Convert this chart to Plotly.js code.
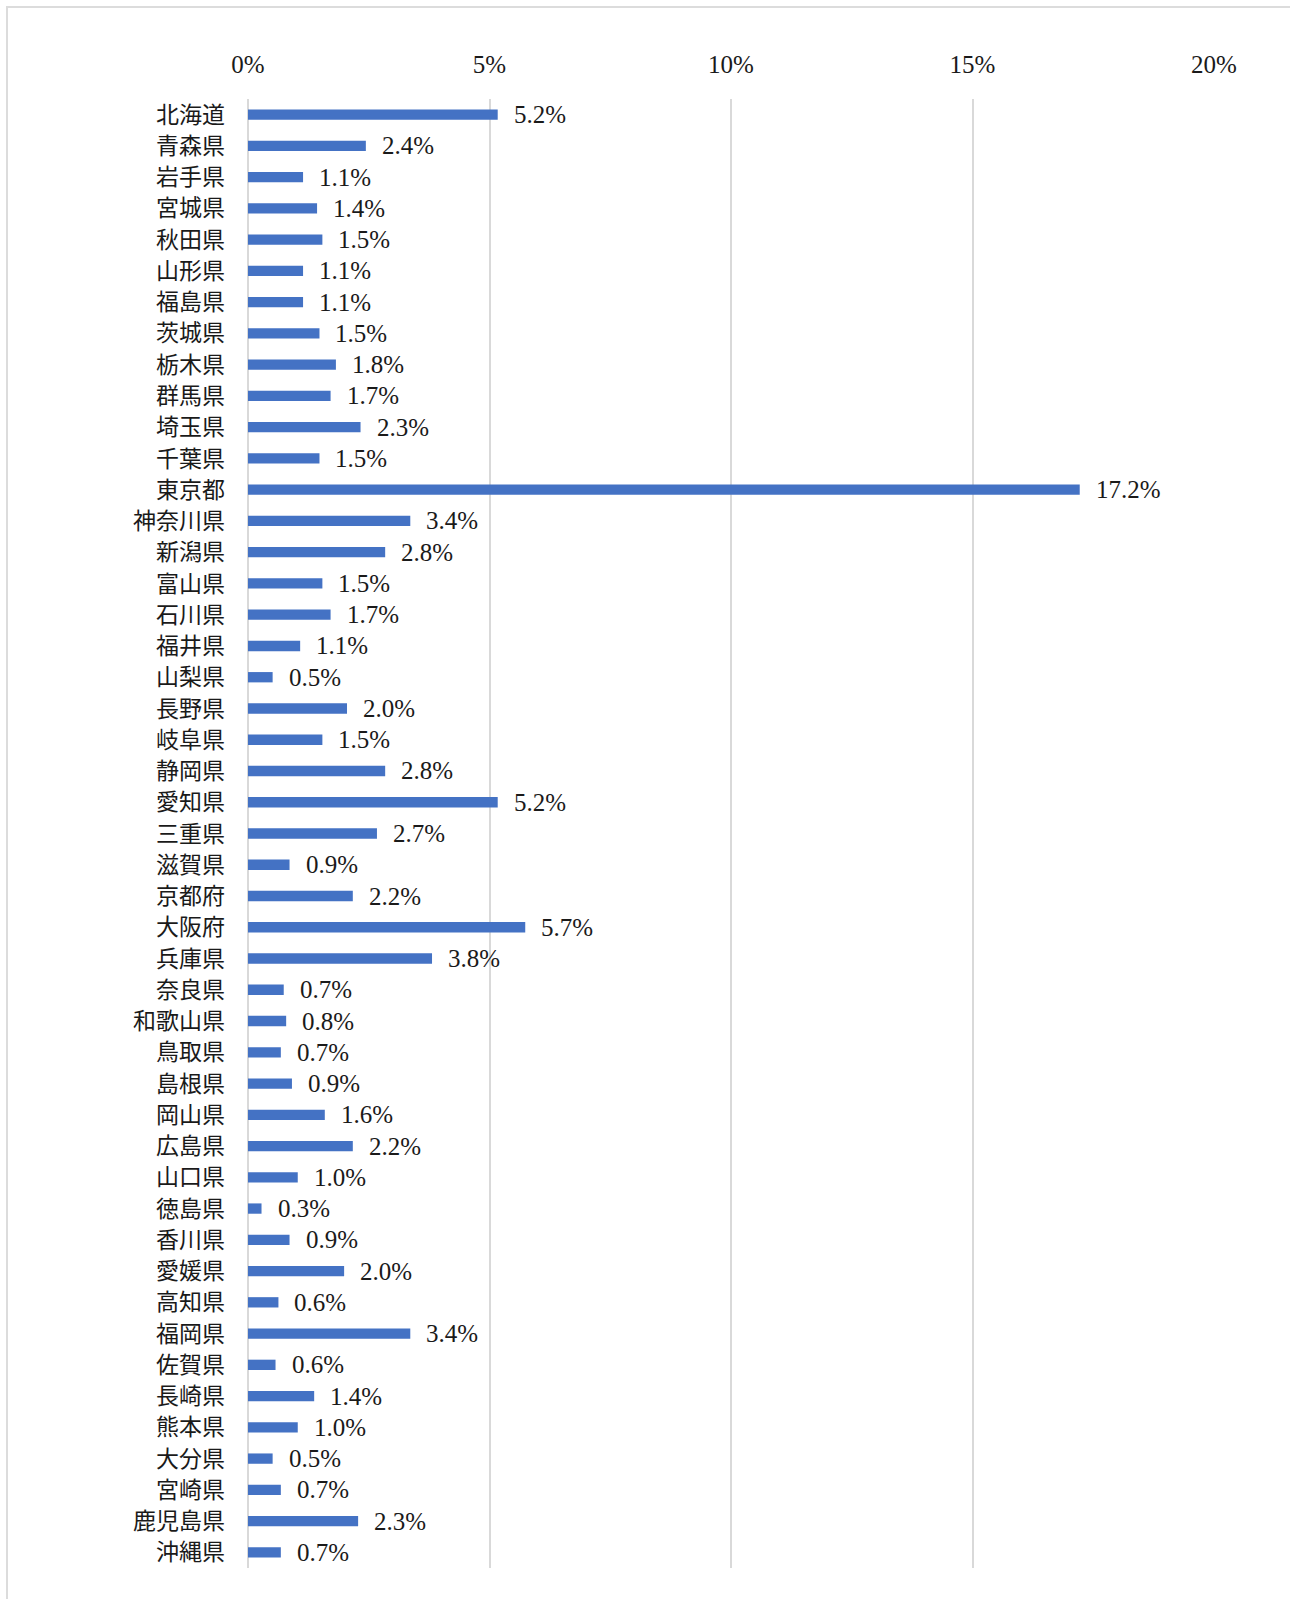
<!DOCTYPE html>
<html>
<head>
<meta charset="utf-8">
<script src="https://cdn.plot.ly/plotly-3.0.1.min.js"></script>
<style>
  html, body { margin: 0; padding: 0; background: #ffffff; }
  #wrap { position: relative; width: 1290px; height: 1599px; overflow: hidden; }
  #chart { position: absolute; left: 0; top: 0; width: 1290px; height: 1599px; }
  #frame { position: absolute; left: 6px; top: 6px; width: 1400px; height: 1700px;
           border-left: 2px solid #dcdcdc; border-top: 2px solid #dcdcdc; pointer-events: none; }
</style>
</head>
<body>
<div id="wrap">
  <div id="chart"></div>
  <div id="frame"></div>
</div>
<script>
const prefectures = ["北海道","青森県","岩手県","宮城県","秋田県","山形県","福島県","茨城県","栃木県","群馬県",
  "埼玉県","千葉県","東京都","神奈川県","新潟県","富山県","石川県","福井県","山梨県","長野県",
  "岐阜県","静岡県","愛知県","三重県","滋賀県","京都府","大阪府","兵庫県","奈良県","和歌山県",
  "鳥取県","島根県","岡山県","広島県","山口県","徳島県","香川県","愛媛県","高知県","福岡県",
  "佐賀県","長崎県","熊本県","大分県","宮崎県","鹿児島県","沖縄県"];

// share in percent
const shares = [5.17,2.44,1.14,1.43,1.54,1.14,1.14,1.48,1.82,1.71,
  2.33,1.48,17.22,3.36,2.84,1.54,1.71,1.08,0.51,2.05,
  1.54,2.84,5.17,2.67,0.86,2.17,5.74,3.81,0.74,0.79,
  0.68,0.91,1.59,2.17,1.03,0.28,0.86,1.99,0.63,3.36,
  0.57,1.37,1.03,0.51,0.68,2.28,0.68];

const xTickVals = [0,5,10,15,20];
const xTickText = ["0%","5%","10%","15%","20%"];

const serif = "'Liberation Serif', 'Times New Roman', serif";
const cjk = "'Noto Sans CJK JP', sans-serif";
const textColor = "#1a1a1a";

const trace = {
  type: "bar",
  orientation: "h",
  x: shares,
  y: prefectures,
  width: 0.33,
  marker: { color: "#4472C4" },
  hoverinfo: "x+y"
};

const annotations = prefectures.map((p, i) => ({
  x: shares[i],
  y: p,
  xref: "x",
  yref: "y",
  text: shares[i].toFixed(1) + "%",
  showarrow: false,
  xanchor: "left",
  yanchor: "middle",
  xshift: 14,
  font: { family: serif, size: 25, color: textColor }
}));

const layout = {
  width: 1290,
  height: 1599,
  margin: { l: 248, r: 76, t: 99, b: 31, pad: 0 },
  paper_bgcolor: "rgba(0,0,0,0)",
  plot_bgcolor: "#ffffff",
  showlegend: false,
  xaxis: {
    side: "top",
    range: [0, 20],
    tickvals: xTickVals,
    ticktext: xTickText,
    showgrid: true,
    gridcolor: "#d9d9d9",
    gridwidth: 2,
    zeroline: true,
    zerolinecolor: "#d9d9d9",
    zerolinewidth: 2,
    showline: false,
    ticks: "",
    ticklabelstandoff: 20,
    tickfont: { family: serif, size: 25, color: textColor },
    fixedrange: true
  },
  yaxis: {
    type: "category",
    categoryorder: "array",
    categoryarray: prefectures,
    autorange: "reversed",
    showgrid: false,
    zeroline: false,
    showline: false,
    ticks: "",
    ticklabelstandoff: 22,
    tickfont: { family: cjk, size: 23, color: textColor },
    fixedrange: true
  },
  annotations: annotations
};

Plotly.newPlot("chart", [trace], layout, { displayModeBar: false, staticPlot: true });
</script>
</body>
</html>
